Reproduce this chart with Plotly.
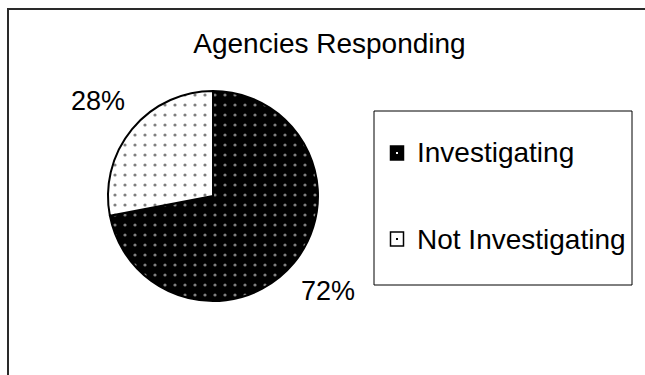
import math
import plotly.graph_objects as go

# Survey split
labels = ["Investigating", "Not Investigating"]
values = [72, 28]
fill_colors = ["black", "white"]
dot_colors = ["white", "black"]
title_text = "Agencies Responding"

W, H = 645, 375
FONT = "Liberation Sans, Arial, sans-serif"

# pie geometry in pixels (centre, radius)
cx, cy, r = 213, 196, 105


def px(x):
    return x / W


def py(y):
    return 1 - y / H


fig = go.Figure(
    go.Pie(
        labels=labels,
        values=values,
        sort=False,
        direction="clockwise",
        rotation=0,
        textinfo="none",
        hoverinfo="label+percent",
        showlegend=False,
        marker=dict(
            colors=fill_colors,
            line=dict(color="black", width=2),
            pattern=dict(
                shape=".",
                fgcolor=dot_colors,
                bgcolor=fill_colors,
                size=10,
                solidity=0.08,
                fillmode="overlay",
            ),
        ),
        domain=dict(x=[px(cx - r), px(cx + r)], y=[py(cy + r), py(cy - r)]),
    )
)

annotations = []
shapes = []

# percentage labels just outside each slice, on the slice mid-angle
total = sum(values)
start = 0.0
for v in values:
    frac = v / total
    mid = (start + frac / 2) * 2 * math.pi  # clockwise from 12 o'clock
    start += frac
    lr = r * 1.42
    lx = cx + lr * math.sin(mid)
    ly = cy - lr * math.cos(mid)
    annotations.append(
        dict(
            x=px(lx), y=py(ly), xref="paper", yref="paper",
            text=f"{round(100 * frac)}%", showarrow=False,
            xanchor="center", yanchor="middle",
            font=dict(family=FONT, size=27, color="black"),
        )
    )

# legend box with one row per category
lx0, lx1, ly0, ly1 = 374, 632, 111, 285
shapes.append(
    dict(type="rect", xref="paper", yref="paper",
         x0=px(lx0), x1=px(lx1), y0=py(ly1), y1=py(ly0),
         line=dict(color="black", width=1), fillcolor="white", layer="below")
)
row_y = [153, 239]
for lab, fc, dc, yc in zip(labels, fill_colors, dot_colors, row_y):
    shapes.append(
        dict(type="rect", xref="paper", yref="paper",
             x0=px(390.5), x1=px(403.5), y0=py(yc + 7), y1=py(yc - 7),
             line=dict(color="black", width=1.5), fillcolor=fc)
    )
    shapes.append(
        dict(type="rect", xref="paper", yref="paper",
             x0=px(396), x1=px(398), y0=py(yc + 1), y1=py(yc - 1),
             line=dict(width=0), fillcolor=dc)
    )
    annotations.append(
        dict(x=px(415), y=py(yc), xref="paper", yref="paper",
             text=lab, showarrow=False, xanchor="left", yanchor="middle",
             font=dict(family=FONT, size=28, color="black"))
    )

# chart frame (runs off the right and bottom edges)
shapes.append(
    dict(type="rect", xref="paper", yref="paper",
         x0=px(8), x1=px(W + 20), y0=py(H + 20), y1=py(9),
         line=dict(color="#2a2a2a", width=2), fillcolor="rgba(0,0,0,0)")
)

fig.update_layout(
    width=W,
    height=H,
    margin=dict(l=0, r=0, t=0, b=0),
    paper_bgcolor="white",
    plot_bgcolor="white",
    title=dict(
        text=title_text, x=px(329.5), xanchor="center",
        y=py(43), yanchor="middle", yref="container",
        font=dict(family=FONT, size=28, color="black"),
    ),
    annotations=annotations,
    shapes=shapes,
)

fig.write_html("out.html")
